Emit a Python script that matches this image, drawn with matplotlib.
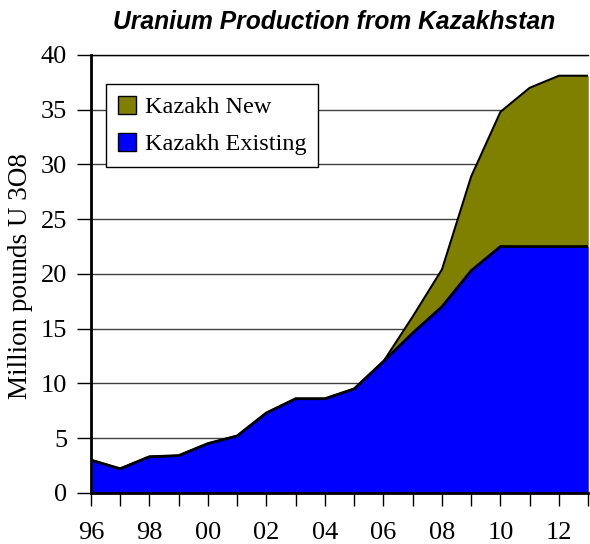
import matplotlib
matplotlib.use("Agg")
import matplotlib.pyplot as plt
from matplotlib.patches import Patch
import numpy as np

years = list(range(1996, 2014))
existing = [3.0, 2.2, 3.3, 3.4, 4.5, 5.2, 7.3, 8.6, 8.6, 9.5, 12.0, 14.6, 17.0, 20.3, 22.5, 22.5, 22.5, 22.5]
new = [0, 0, 0, 0, 0, 0, 0, 0, 0, 0, 0.0, 1.5, 3.4, 8.6, 12.3, 14.5, 15.6, 15.6]
tick_years = [1996, 1998, 2000, 2002, 2004, 2006, 2008, 2010, 2012]
tick_labels = ["96", "98", "00", "02", "04", "06", "08", "10", "12"]

serif = "Liberation Serif"
fig = plt.figure(figsize=(5.9, 5.44), dpi=100)
ax = fig.add_axes([0.154, 0.094, 0.843, 0.805])

x = np.array(years)
e = np.array(existing)
t = e + np.array(new)
ax.fill_between(x, 0, e, color="#0000FF", zorder=2, linewidth=0)
ax.fill_between(x, e, t, color="#808000", zorder=2, linewidth=0)
ax.plot(x, e, color="black", lw=2, zorder=3)
ax.plot(x, t, color="black", lw=1.5, zorder=3)

ax.set_xlim(1996, 2013)
ax.set_ylim(0, 40)
ax.set_yticks(range(0, 41, 5))
ax.yaxis.grid(True, color="#404040", lw=1)
ax.set_axisbelow(True)
ax.set_xticks(tick_years)
ax.set_xticklabels(tick_labels, fontfamily=serif, fontsize=19)
ax.set_xticks(years, minor=True)
for lab in ax.get_yticklabels():
    lab.set_fontfamily(serif)
    lab.set_fontsize(19)
ax.tick_params(axis="x", which="both", length=9, width=1, direction="out", pad=12)
ax.tick_params(axis="y", length=10, width=1, direction="out", pad=7)
for s in ["left", "bottom"]:
    ax.spines[s].set_linewidth(2)
ax.spines["right"].set_visible(False)
ax.spines["top"].set_linewidth(1)
ax.set_ylabel("Million pounds U 3O8", fontfamily=serif, fontsize=19.5)
ax.yaxis.set_label_coords(-0.116, 0.495)

fig.text(0.566, 0.96, "Uranium Production from Kazakhstan", ha="center", va="center",
         fontfamily="Liberation Sans", fontweight="bold", fontstyle="italic", fontsize=17.7)

handles = [Patch(facecolor="#808000", edgecolor="black", label="Kazakh New"),
           Patch(facecolor="#0000FF", edgecolor="black", label="Kazakh Existing")]
leg = ax.legend(handles=handles, loc="upper left", bbox_to_anchor=(0.03, 0.934),
                borderaxespad=0,
                prop={"family": serif, "size": 17.5}, fancybox=False, framealpha=1,
                edgecolor="black", handlelength=0.75, handleheight=0.75, handletextpad=0.35,
                borderpad=0.5, labelspacing=0.6)
leg.get_frame().set_linewidth(1)

fig.savefig("out.png", dpi=100)
